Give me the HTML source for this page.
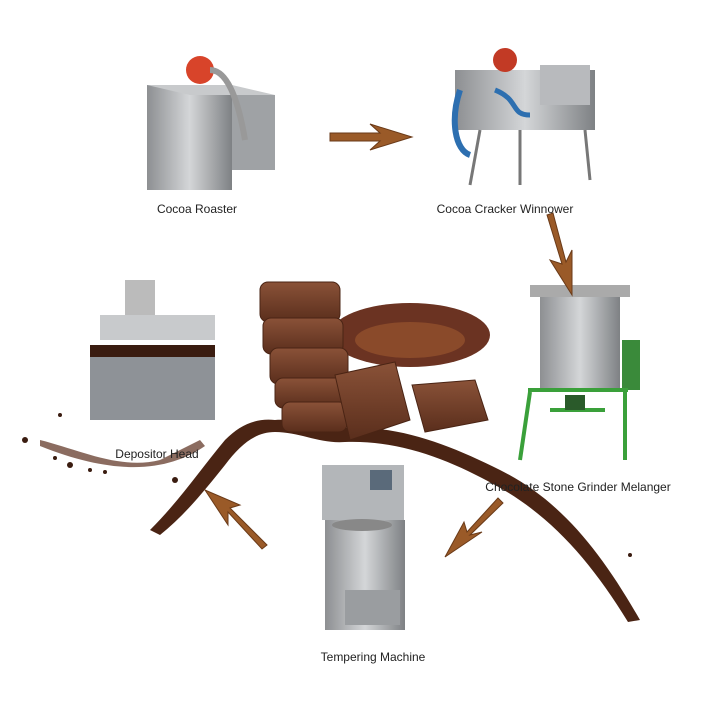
<!DOCTYPE html>
<html><head><meta charset="utf-8"><style>
html,body{margin:0;padding:0;background:#fff;}
svg{display:block;}
text{font-family:"Liberation Sans",sans-serif;font-size:12px;fill:#222;}
</style></head><body>
<svg width="720" height="720" viewBox="0 0 720 720" xmlns="http://www.w3.org/2000/svg">
<defs>
<linearGradient id="steel" x1="0" x2="1"><stop offset="0" stop-color="#8d8f92"/><stop offset="0.5" stop-color="#d4d6d8"/><stop offset="1" stop-color="#7e8184"/></linearGradient>
<linearGradient id="choc" x1="0" y1="0" x2="0" y2="1"><stop offset="0" stop-color="#8a5238"/><stop offset="1" stop-color="#5a2e1c"/></linearGradient>
</defs>
<!-- chocolate swirl -->
<path d="M150,530 C180,500 200,470 225,440 C240,425 255,418 275,420 C300,418 320,430 345,428 C400,425 450,445 500,470 C560,500 600,550 640,620 L628,622 C590,560 550,515 495,485 C450,460 400,440 345,442 C320,444 300,432 275,432 C255,432 240,445 225,465 C205,490 185,515 160,535 Z" fill="#4a2414"/>
<path d="M40,440 C80,450 120,470 160,460 L200,440 L205,446 C170,470 120,478 40,446Z" fill="#5a2e1c" opacity="0.7"/>
<g fill="#3a1c10"><circle cx="25" cy="440" r="3"/><circle cx="55" cy="458" r="2"/><circle cx="70" cy="465" r="3"/><circle cx="90" cy="470" r="2"/><circle cx="105" cy="472" r="2"/><circle cx="60" cy="415" r="2"/><circle cx="175" cy="480" r="3"/><circle cx="630" cy="555" r="2"/></g>
<!-- roaster -->
<rect x="147" y="85" width="85" height="105" fill="url(#steel)"/>
<polygon points="147,85 232,85 275,95 190,95" fill="#c8cacc"/>
<rect x="232" y="95" width="43" height="75" fill="#9fa2a5"/>
<circle cx="200" cy="70" r="14" fill="#d8442a"/>
<path d="M210,70 C230,70 240,110 245,140" stroke="#999" stroke-width="6" fill="none"/>
<text x="197" y="213" text-anchor="middle">Cocoa Roaster</text>
<!-- winnower -->
<rect x="455" y="70" width="140" height="60" fill="url(#steel)"/>
<rect x="540" y="65" width="50" height="40" fill="#b8babd"/>
<circle cx="505" cy="60" r="12" fill="#c23a25"/>
<path d="M460,90 C450,120 455,150 470,155" stroke="#2d6fb0" stroke-width="6" fill="none"/>
<path d="M495,90 C520,100 510,115 530,115" stroke="#2d6fb0" stroke-width="5" fill="none"/>
<g stroke="#777" stroke-width="3"><line x1="480" y1="130" x2="470" y2="185"/><line x1="520" y1="130" x2="520" y2="185"/><line x1="585" y1="130" x2="590" y2="180"/></g>
<text x="505" y="213" text-anchor="middle">Cocoa Cracker Winnower</text>
<!-- melanger -->
<rect x="540" y="295" width="80" height="95" fill="url(#steel)"/>
<rect x="530" y="285" width="100" height="12" fill="#aaa"/>
<rect x="622" y="340" width="18" height="50" fill="#3a8a3a"/>
<g stroke="#3aa03a" stroke-width="4" fill="none"><line x1="528" y1="390" x2="628" y2="390"/><line x1="530" y1="392" x2="520" y2="460"/><line x1="625" y1="392" x2="625" y2="460"/><line x1="550" y1="410" x2="605" y2="410"/></g>
<rect x="565" y="395" width="20" height="15" fill="#2a5a2a"/>
<text x="578" y="491" text-anchor="middle">Chocolate Stone Grinder Melanger</text>
<!-- depositor -->
<rect x="90" y="350" width="125" height="70" fill="#8e9297"/>
<rect x="90" y="345" width="125" height="12" fill="#3a1c10"/>
<rect x="100" y="315" width="115" height="25" fill="#c8cacc"/>
<rect x="125" y="280" width="30" height="35" fill="#bbb"/>
<text x="157" y="458" text-anchor="middle">Depositor Head</text>
<!-- beans -->
<ellipse cx="410" cy="335" rx="80" ry="32" fill="#6b3322"/>
<ellipse cx="410" cy="340" rx="55" ry="18" fill="#8a4a2a"/>
<!-- chocolate pieces -->
<g fill="url(#choc)" stroke="#4a2414" stroke-width="1">
<rect x="260" y="282" width="80" height="40" rx="8"/>
<rect x="263" y="318" width="80" height="36" rx="8"/>
<rect x="270" y="348" width="78" height="36" rx="8"/>
<rect x="275" y="378" width="70" height="30" rx="8"/>
<rect x="282" y="402" width="65" height="30" rx="8"/>
<polygon points="335,375 395,362 410,420 350,440"/>
<polygon points="412,385 475,380 488,420 425,432"/>
</g>
<!-- tempering -->
<rect x="322" y="465" width="82" height="55" fill="#b3b6b9"/>
<rect x="370" y="470" width="22" height="20" fill="#5a6a7a"/>
<rect x="325" y="520" width="80" height="110" fill="url(#steel)"/>
<ellipse cx="362" cy="525" rx="30" ry="6" fill="#888"/>
<rect x="345" y="590" width="55" height="35" fill="#9a9da0"/>
<text x="373" y="661" text-anchor="middle">Tempering Machine</text>
<!-- arrows -->
<g fill="#9a5a28" stroke="#6a3a18" stroke-width="1">
<polygon points="330,133 380,133 370,124 412,137 370,150 380,141 330,141"/>
<polygon points="547,215 553,213 566,262 572,250 572,295 550,260 562,264"/>
<polygon points="498,498 503,503 470,535 482,532 445,557 464,522 467,532"/>
<polygon points="267,545 262,549 228,512 228,525 205,490 240,505 230,508"/>
</g>
</svg>
</body></html>
